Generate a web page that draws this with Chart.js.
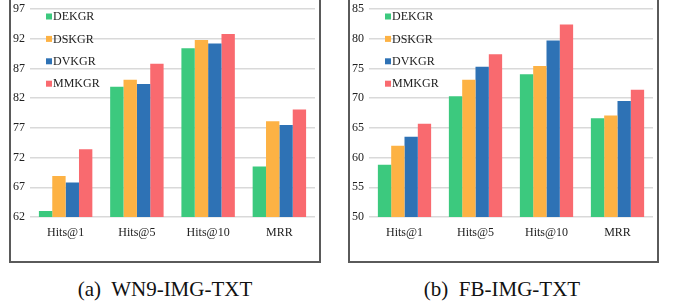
<!DOCTYPE html>
<html>
<head>
<meta charset="utf-8">
<script src="https://cdn.jsdelivr.net/npm/chart.js@4"></script>
<style>
body{margin:0;background:#fff;width:673px;height:305px;overflow:hidden;position:relative;font-family:"Liberation Serif","Times New Roman",serif}
.box{position:absolute;top:-4px;height:267px;border:2px solid #5a5a5a;box-sizing:border-box}
canvas{position:absolute;top:0}
.cap{position:absolute;top:277px;font-size:21px;line-height:24px;color:#111;text-align:center;width:300px}
</style>
</head>
<body>
<div class="box" style="left:9px;width:312px"></div>
<div class="box" style="left:348px;width:311px"></div>
<canvas id="c1" width="308" height="261" style="left:11px"></canvas>
<canvas id="c2" width="307" height="261" style="left:350px"></canvas>
<div class="cap" style="left:15px">(a)&nbsp; WN9-IMG-TXT</div>
<div class="cap" style="left:352px">(b)&nbsp; FB-IMG-TXT</div>
<script>
const categories=["Hits@1","Hits@5","Hits@10","MRR"]
const seriesNames=["DEKGR","DSKGR","DVKGR","MMKGR"]
const colors=["#3cc97e","#fdb244","#2e72b5","#f96a6f"]

// WN9-IMG-TXT
const wnDEKGR=[63.0,83.9,90.4,70.5]
const wnDSKGR=[68.9,85.1,91.8,78.1]
const wnDVKGR=[67.8,84.4,91.2,77.5]
const wnMMKGR=[73.4,87.8,92.8,80.1]
const wnTicks={min:62,max:97,step:5}

// FB-IMG-TXT
const fbDEKGR=[58.8,70.3,74.0,66.6]
const fbDSKGR=[62.0,73.1,75.4,67.1]
const fbDVKGR=[63.5,75.3,79.7,69.5]
const fbMMKGR=[65.7,77.4,82.4,71.4]
const fbTicks={min:50,max:85,step:5}

const fontFam="'Liberation Serif', 'Times New Roman', serif"

// legenda vertical dentro da area do grafico
const legendaInterna={
id:"legendaInterna",
afterDraw(chart){
const ctx=chart.ctx
const a=chart.chartArea
ctx.save()
ctx.font="12px "+fontFam
ctx.textBaseline="middle"
chart.data.datasets.forEach((ds,i)=>{
const y=a.top+7.5+i*22.4
const x=a.left+16
ctx.fillStyle=ds.backgroundColor
ctx.fillRect(x,y-3,6,6)
ctx.fillStyle="#222"
ctx.fillText(ds.label,x+7,y+0.5)
})
ctx.restore()
}
}

function gerarGrafico(id,series,t){
const canvas=document.getElementById(id)
return new Chart(canvas,{
type:"bar",
data:{
labels:categories,
datasets:series.map((d,i)=>({
label:seriesNames[i],
data:d,
backgroundColor:colors[i],
barPercentage:1,
categoryPercentage:0.75
}))
},
options:{
responsive:false,
animation:false,
layout:{padding:{left:2,right:4,top:9,bottom:0}},
plugins:{legend:{display:false},tooltip:{enabled:false}},
scales:{
y:{
min:t.min,max:t.max,
ticks:{stepSize:t.step,color:"#222",font:{family:fontFam,size:12},crossAlign:"far",padding:0},
grid:{color:"#d9d9d9",lineWidth:1.5,drawTicks:false},
border:{display:false},
afterFit(s){s.width=17}
},
x:{
ticks:{color:"#222",font:{family:fontFam,size:12},padding:1},
grid:{display:false},
border:{display:false},
afterFit(s){s.height=44}
}
}
},
plugins:[legendaInterna]
})
}

window.addEventListener("load",()=>{
gerarGrafico("c1",[wnDEKGR,wnDSKGR,wnDVKGR,wnMMKGR],wnTicks)
gerarGrafico("c2",[fbDEKGR,fbDSKGR,fbDVKGR,fbMMKGR],fbTicks)
})
</script>
</body>
</html>
